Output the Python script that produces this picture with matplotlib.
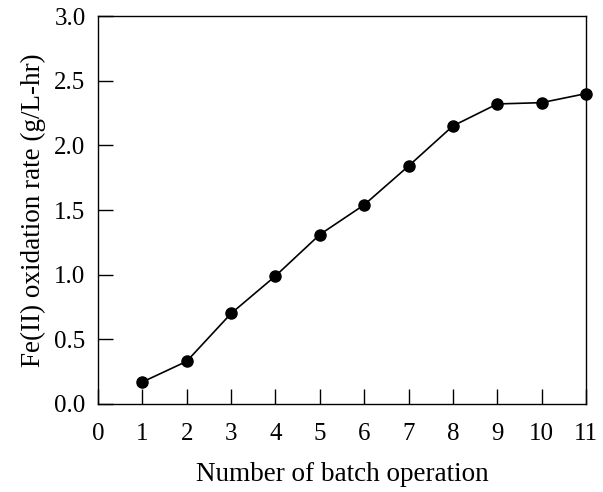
import matplotlib
matplotlib.use("Agg")
import matplotlib.pyplot as plt

batch = [1, 2, 3, 4, 5, 6, 7, 8, 9, 10, 11]
rate = [0.17, 0.33, 0.70, 0.99, 1.31, 1.54, 1.84, 2.15, 2.32, 2.33, 2.40]

plt.rcParams['font.family'] = ['Liberation Serif', 'DejaVu Serif']

fig = plt.figure(figsize=(6.03, 4.92), dpi=100)
ax = fig.add_axes([98 / 603, 1 - 404 / 492, 488 / 603, 388 / 492])

ax.plot(batch, rate, color='black', lw=1.2, marker='o', markersize=8, clip_on=False, zorder=3)

ax.set_xlim(0, 11)
ax.set_ylim(0, 3.0)
ax.set_xticks(range(0, 12))
ax.set_yticks([0.0, 0.5, 1.0, 1.5, 2.0, 2.5, 3.0])
ax.set_yticklabels(['0.0', '0.5', '1.0', '1.5', '2.0', '2.5', '3.0'])
ax.tick_params(direction='in', length=11, width=1.0, labelsize=18,
               top=False, right=False)
ax.tick_params(axis='x', pad=14)
ax.tick_params(axis='y', pad=9)
for s in ax.spines.values():
    s.set_linewidth(1.0)

ax.set_xlabel('Number of batch operation', fontsize=19.5, labelpad=12)
ax.set_ylabel('Fe(II) oxidation rate (g/L-hr)', fontsize=19.5, labelpad=6)

fig.savefig('out.png', dpi=100)
